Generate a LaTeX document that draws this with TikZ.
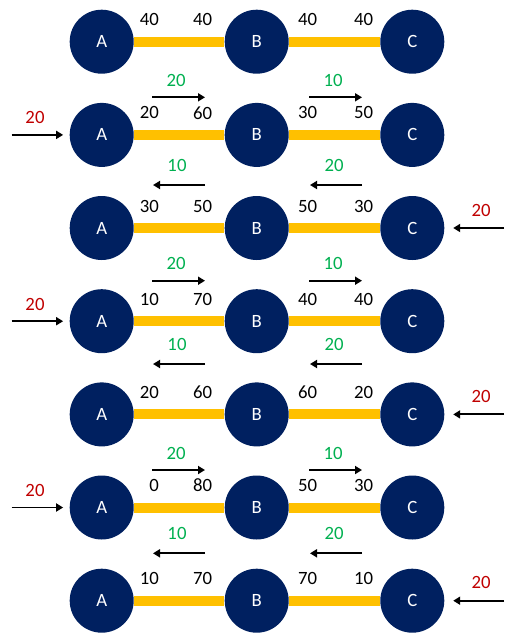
\documentclass[tikz,border=0pt]{standalone}
\usepackage{fontspec}
\setmainfont{Carlito}
\usetikzlibrary{arrows.meta}

\definecolor{marine}{HTML}{002060}
\definecolor{jaune}{HTML}{FFC000}
\definecolor{vert}{HTML}{00B050}
\definecolor{rouge}{HTML}{C00000}

\tikzset{
  noeud/.style={circle, fill=marine, text=white, minimum size=19.2mm, inner sep=0pt, font=\fontsize{16}{19}\selectfont},
  barre/.style={jaune, line width=3mm},
  valeur/.style={anchor=east, inner sep=0pt, font=\fontsize{16}{19}\selectfont},
  flux/.style={-{Triangle[length=2.1mm,width=2.4mm]}, line width=1.6pt},
  debit/.style={text=vert, inner sep=0pt, font=\fontsize{16}{19}\selectfont},
  apport/.style={text=rouge, inner sep=0pt, font=\fontsize{16}{19}\selectfont}
}

\begin{document}
\begin{tikzpicture}[x=0.3mm,y=-0.3mm]
\useasboundingbox (0,0) rectangle (504,633);

% Etats successifs
\foreach \n/\y/\ab/\ba/\bc/\cb in {
1/41.7/40/40/40/40,
2/134.9/20/60/30/50,
3/228.0/30/50/50/30,
4/321.2/10/70/40/40,
5/414.4/20/60/60/20,
6/507.5/0/80/50/30,
7/600.7/10/70/70/10
}
{
    \node[noeud] (a\n) at (101.7,\y) {A};
    \node[noeud] (b\n) at (256.7,\y) {B};
    \node[noeud] (c\n) at (412.3,\y) {C};
    \draw[barre] (a\n) -- (b\n);
    \draw[barre] (b\n) -- (c\n);
    \node[valeur] (vab\n) at (159,\y-22) {\ab};
    \node[valeur] (vba\n) at (212.3,\y-22) {\ba};
    \node[valeur] (vbc\n) at (317.3,\y-22) {\bc};
    \node[valeur] (vcb\n) at (373.3,\y-22) {\cb};
}

% Apports a gauche, flux vers la droite
\foreach \n/\y/\f in {2/134.9/97.3, 4/321.2/280.7, 6/507.5/470}
{
    \coordinate (in\n) at (11.7,\y);
    \draw[flux, shorten >=1.9mm] (in\n) -- (a\n.west);
    \node[apport] (r\n) at (35,\y-17) {20};
    \coordinate (s\n) at (152,\f);
    \coordinate (t\n) at (205,\f);
    \coordinate (u\n) at (309,\f);
    \coordinate (w\n) at (362,\f);
    \draw[flux] (s\n) -- (t\n);
    \draw[flux] (u\n) -- (w\n);
    \node[debit] (dab\n) at (176,\f-17) {20};
    \node[debit] (dbc\n) at (333,\f-17) {10};
}

% Apports a droite, flux vers la gauche
\foreach \n/\y/\f in {3/228.0/185, 5/414.4/364, 7/600.7/553.3}
{
    \coordinate (in\n) at (504,\y);
    \draw[flux, shorten >=2.6mm] (in\n) -- (c\n.east);
    \node[apport] (r\n) at (481,\y-18) {20};
    \coordinate (s\n) at (205,\f);
    \coordinate (t\n) at (153,\f);
    \coordinate (u\n) at (362,\f);
    \coordinate (w\n) at (310,\f);
    \draw[flux] (s\n) -- (t\n);
    \draw[flux] (u\n) -- (w\n);
    \node[debit] (dab\n) at (177,\f-20) {10};
    \node[debit] (dbc\n) at (334,\f-20) {20};
}

\end{tikzpicture}
\end{document}
